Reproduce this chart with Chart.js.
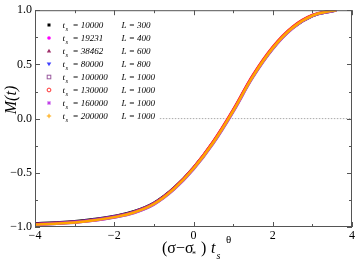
<!DOCTYPE html>
<html>
<head>
<meta charset="utf-8">
<script src="https://cdn.jsdelivr.net/npm/chart.js@4.4.0/dist/chart.umd.min.js"></script>
<style>
  html, body { margin: 0; padding: 0; background: #fff; }
  #wrap { width: 357px; height: 261px; position: relative; }
</style>
</head>
<body>
<div id="wrap"><canvas id="scaling-chart"></canvas></div>
<script>
// scaled variable (σ−σ*) t_s^θ
const xs = [-4, -3.5, -3, -2.5, -2, -1.5, -1, -0.5, 0, 0.5, 1, 1.5, 2, 2.5, 3, 3.5, 3.6];

const tsValues = [10000, 19231, 38462, 80000, 100000, 130000, 160000, 200000];
const lValues = [300, 400, 600, 800, 1000, 1000, 1000, 1000];

// M(t)
const m10000  = [-0.966, -0.958, -0.947, -0.927, -0.898, -0.855, -0.777, -0.640, -0.452, -0.214, 0.074, 0.390, 0.648, 0.835, 0.946, 0.991, 0.995];
const m19231  = [-0.972, -0.964, -0.952, -0.932, -0.903, -0.860, -0.782, -0.644, -0.453, -0.211, 0.080, 0.400, 0.658, 0.844, 0.954, 0.996, 1.000];
const m38462  = [-0.970, -0.962, -0.951, -0.931, -0.902, -0.859, -0.781, -0.644, -0.455, -0.215, 0.075, 0.396, 0.655, 0.842, 0.952, 0.995, 0.999];
const m80000  = [-0.974, -0.966, -0.954, -0.934, -0.905, -0.862, -0.784, -0.647, -0.457, -0.218, 0.072, 0.393, 0.652, 0.840, 0.951, 0.994, 0.998];
const m100000 = [-0.980, -0.972, -0.960, -0.941, -0.913, -0.871, -0.794, -0.658, -0.469, -0.230, 0.060, 0.380, 0.641, 0.831, 0.945, 0.991, 0.996];
const m130000 = [-0.976, -0.968, -0.956, -0.936, -0.907, -0.863, -0.784, -0.644, -0.451, -0.208, 0.083, 0.404, 0.663, 0.848, 0.956, 0.997, 1.000];
const m160000 = [-0.979, -0.971, -0.959, -0.940, -0.911, -0.869, -0.791, -0.655, -0.465, -0.226, 0.064, 0.385, 0.645, 0.834, 0.947, 0.992, 0.997];
const m200000 = [-0.978, -0.970, -0.958, -0.938, -0.909, -0.866, -0.788, -0.650, -0.460, -0.220, 0.070, 0.390, 0.650, 0.838, 0.950, 0.994, 0.998];

const seriesM = [m10000, m19231, m38462, m80000, m100000, m130000, m160000, m200000];
const colors = ['#000000', '#ff00ff', '#a0306a', '#4040ff', '#9a5a9e', '#ff3030', '#c040e8', '#ffa500'];
const markers = ['square', 'dot', 'tri', 'tridown', 'osquare', 'ocircle', 'star', 'plus'];

// zero reference line
const zeroLineX = [-0.85, 4];
const zeroLineY = [0, 0];

const SERIF = '"Liberation Serif", "DejaVu Serif", serif';

const datasets = seriesM.map((m, i) => ({
  label: 't_s = ' + tsValues[i],
  data: xs.map((x, k) => ({ x: x, y: m[k] })),
  borderColor: colors[i],
  backgroundColor: colors[i],
  borderWidth: 2.5,
  pointRadius: 0,
  showLine: true,
  tension: 0.4,
  order: 10 - i
}));
datasets.push({
  label: 'zero',
  data: zeroLineX.map((x, k) => ({ x: x, y: zeroLineY[k] })),
  borderColor: '#aaaaaa',
  borderWidth: 1,
  borderDash: [1.5, 1.5],
  pointRadius: 0,
  showLine: true,
  order: 20
});

function drawMarker(ctx, type, x, y, c) {
  ctx.save();
  ctx.fillStyle = c;
  ctx.strokeStyle = c;
  ctx.lineWidth = 1;
  ctx.beginPath();
  if (type === 'square') {
    ctx.fillRect(x - 1.5, y - 1.5, 3, 3);
  } else if (type === 'dot') {
    ctx.arc(x, y, 1.8, 0, Math.PI * 2); ctx.fill();
  } else if (type === 'tri') {
    ctx.moveTo(x, y - 2.2); ctx.lineTo(x + 2.2, y + 1.6); ctx.lineTo(x - 2.2, y + 1.6); ctx.closePath(); ctx.fill();
  } else if (type === 'tridown') {
    ctx.moveTo(x - 2.3, y - 1.6); ctx.lineTo(x + 2.3, y - 1.6); ctx.lineTo(x, y + 2.2); ctx.closePath(); ctx.fill();
  } else if (type === 'osquare') {
    ctx.strokeRect(x - 1.8, y - 1.8, 3.6, 3.6);
  } else if (type === 'ocircle') {
    ctx.arc(x, y, 1.9, 0, Math.PI * 2); ctx.stroke();
  } else if (type === 'star') {
    ctx.moveTo(x - 2, y); ctx.lineTo(x + 2, y);
    ctx.moveTo(x, y - 2); ctx.lineTo(x, y + 2);
    ctx.moveTo(x - 1.4, y - 1.4); ctx.lineTo(x + 1.4, y + 1.4);
    ctx.moveTo(x - 1.4, y + 1.4); ctx.lineTo(x + 1.4, y - 1.4);
    ctx.stroke();
  } else if (type === 'plus') {
    ctx.moveTo(x - 2.2, y); ctx.lineTo(x + 2.2, y);
    ctx.moveTo(x, y - 2.2); ctx.lineTo(x, y + 2.2);
    ctx.stroke();
  }
  ctx.restore();
}

const decorations = {
  id: 'decorations',
  afterDraw(chart) {
    const ctx = chart.ctx;
    const a = chart.chartArea;
    const sx = chart.scales.x, sy = chart.scales.y;
    ctx.save();

    // frame with inward ticks
    ctx.strokeStyle = '#555';
    ctx.lineWidth = 1;
    ctx.strokeRect(a.left + 0.5, a.top + 0.5, a.right - a.left - 1, a.bottom - a.top - 1);
    ctx.beginPath();
    [-4, -3, -2, -1, 0, 1, 2, 3, 4].forEach(v => {
      const len = (v % 2 === 0) ? 5 : 3;
      const px = Math.round(sx.getPixelForValue(v)) + 0.5;
      ctx.moveTo(px, a.bottom); ctx.lineTo(px, a.bottom - len);
      ctx.moveTo(px, a.top); ctx.lineTo(px, a.top + len);
    });
    [-1, -0.75, -0.5, -0.25, 0, 0.25, 0.5, 0.75, 1].forEach(v => {
      const len = (Math.abs(v * 2) % 1 === 0) ? 5 : 3;
      const py = Math.round(sy.getPixelForValue(v)) + 0.5;
      ctx.moveTo(a.left, py); ctx.lineTo(a.left + len, py);
      ctx.moveTo(a.right, py); ctx.lineTo(a.right - len, py);
    });
    ctx.stroke();

    // legend
    ctx.fillStyle = '#000';
    ctx.textBaseline = 'alphabetic';
    tsValues.forEach((ts, i) => {
      const y = 25 + i * 13;
      drawMarker(ctx, markers[i], 49, y, colors[i]);
      ctx.font = 'italic 9px ' + SERIF;
      ctx.fillText('t', 62.5, y + 3);
      ctx.font = 'italic 6.5px ' + SERIF;
      ctx.fillText('s', 65.5, y + 5.5);
      ctx.font = 'italic 9px ' + SERIF;
      ctx.fillText('= ' + ts, 72.5, y + 3);
      ctx.fillText('L = ' + lValues[i], 121.5, y + 3);
    });

    // y axis title
    ctx.save();
    ctx.translate(16, 100);
    ctx.rotate(-Math.PI / 2);
    ctx.textAlign = 'center';
    ctx.font = 'italic 16px ' + SERIF;
    ctx.fillText('M(t)', 0, 0);
    ctx.restore();

    // x axis title: (σ−σ*) t_s^θ
    ctx.font = '16px ' + SERIF;
    ctx.fillText('(σ\u2212σ', 162, 253);
    ctx.font = '8px ' + SERIF;
    ctx.fillText('*', 192, 257);
    ctx.font = '16px ' + SERIF;
    ctx.fillText(')', 201, 253);
    ctx.font = 'italic 16px ' + SERIF;
    ctx.fillText('t', 211, 253);
    ctx.font = 'italic 10px ' + SERIF;
    ctx.fillText('s', 216.5, 259);
    ctx.font = '11px ' + SERIF;
    ctx.fillText('θ', 226, 243);

    ctx.restore();
  }
};

new Chart(document.getElementById('scaling-chart'), {
  type: 'scatter',
  data: { datasets: datasets },
  options: {
    responsive: true,
    maintainAspectRatio: false,
    animation: false,
    layout: { padding: { left: 0, right: 4, top: 5, bottom: 0 } },
    plugins: {
      legend: { display: false },
      tooltip: { enabled: false }
    },
    scales: {
      x: {
        type: 'linear',
        min: -4,
        max: 4,
        grid: { display: false, drawTicks: false },
        border: { display: false },
        ticks: {
          stepSize: 2,
          padding: 2,
          color: '#000',
          font: { family: SERIF, size: 12 },
          maxRotation: 0,
          callback: v => (v < 0 ? '\u2212' + Math.abs(v) : String(v))
        },
        afterFit: s => { s.height = 34; }
      },
      y: {
        type: 'linear',
        min: -1,
        max: 1,
        grid: { display: false, drawTicks: false },
        border: { display: false },
        ticks: {
          stepSize: 0.5,
          padding: 3,
          color: '#000',
          font: { family: SERIF, size: 12 },
          callback: v => (v < 0 ? '\u2212' + Math.abs(v).toFixed(1) : v.toFixed(1))
        },
        afterFit: s => { s.width = 35; }
      }
    }
  },
  plugins: [decorations]
});
</script>
</body>
</html>
